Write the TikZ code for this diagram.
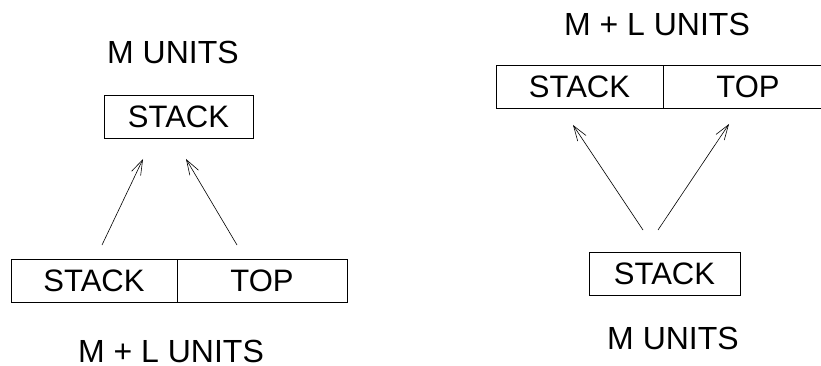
\documentclass[tikz,border=0pt]{standalone}
\usepackage{fontspec}
\setmainfont{Liberation Sans}
\usetikzlibrary{arrows.meta}

\tikzset{
  cell/.style={draw, semithick, minimum height=43pt, inner sep=0pt, font=\fontsize{31}{36}\selectfont},
  units/.style={inner sep=0pt, font=\fontsize{32}{36}\selectfont},
  growarrow/.style={-{Straight Barb[length=15pt,width=10pt]}, semithick}
}

\begin{document}
\begin{tikzpicture}[x=1pt, y=-1pt]
  \useasboundingbox (0,0) rectangle (821,366);

  % left: M units grown out of M + L units
  \node[units] (lunits) at (173,52) {M UNITS};
  \node[cell, minimum width=149pt] (lstack) at (178.5,117) {STACK};
  \node[cell, minimum width=166pt] (lbstack) at (94,280.5) {STACK};
  \node[cell, minimum width=170pt] (lbtop) at (262,280.5) {TOP};
  \node[units] (lbunits) at (171,351) {M + L UNITS};
  \coordinate (la) at (102,245);
  \coordinate (lb) at (237,245);
  \coordinate (lta) at (143,159);
  \coordinate (ltb) at (186,159);
  \draw[growarrow] (la) -- (lta);
  \draw[growarrow] (lb) -- (ltb);

  % right: M + L units grown out of M units
  \node[units] (runits) at (657,24) {M + L UNITS};
  \node[cell, minimum width=167pt] (rstack) at (579.5,87) {STACK};
  \node[cell, minimum width=170pt] (rtop) at (748,87) {TOP};
  \node[cell, minimum width=151pt] (rbstack) at (664.5,273.5) {STACK};
  \node[units] (rbunits) at (673,338) {M UNITS};
  \coordinate (ra) at (643,230);
  \coordinate (rb) at (658,230);
  \coordinate (rta) at (573,125);
  \coordinate (rtb) at (729,124);
  \draw[growarrow] (ra) -- (rta);
  \draw[growarrow] (rb) -- (rtb);
\end{tikzpicture}
\end{document}
